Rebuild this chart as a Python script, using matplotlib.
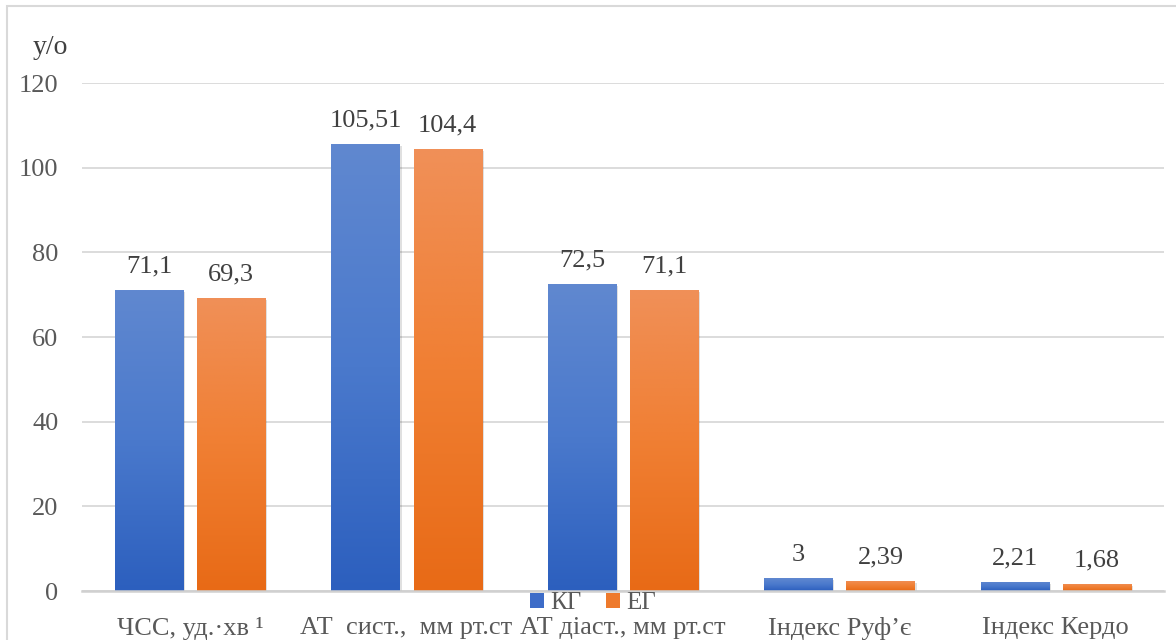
import numpy as np
import matplotlib.pyplot as plt
from matplotlib.colors import LinearSegmentedColormap
from matplotlib.patches import Rectangle, Patch
import matplotlib.patheffects as pe

plt.rcParams['font.family'] = ['Liberation Serif', 'DejaVu Serif']

categories = ["ЧСС, уд.·хв ¹", "АТ  сист.,  мм рт.ст", "АТ діаст., мм рт.ст",
              "Індекс Руф’є", "Індекс Кердо"]
kg_values = [71.1, 105.51, 72.5, 3, 2.21]
eg_values = [69.3, 104.4, 71.1, 2.39, 1.68]
kg_labels = ["71,1", "105,51", "72,5", "3", "2,21"]
eg_labels = ["69,3", "104,4", "71,1", "2,39", "1,68"]

blue_grad = LinearSegmentedColormap.from_list("kg", ["#2c5fbe", "#4a79cc", "#6088d0"])
orange_grad = LinearSegmentedColormap.from_list("eg", ["#e86a16", "#f07f33", "#f09058"])

fig = plt.figure(figsize=(11.76, 6.4), dpi=100)
ax = fig.add_axes([82 / 1176, 49 / 640, (1164 - 82) / 1176, (591 - 83) / 640])

x = np.arange(len(categories))
width = 0.315
offset = 0.19

grad = np.linspace(0, 1, 256).reshape(-1, 1)


def gradient_bars(xs, vals, cmap):
    bars = ax.bar(xs, vals, width, color="none", edgecolor="none", zorder=3)
    for b in bars:
        x0 = b.get_x()
        h = b.get_height()
        # soft drop shadow behind the bar
        sh = Rectangle((x0, 0), width, h, facecolor="white", edgecolor="none", zorder=2)
        ax.add_patch(sh)
        sh.set_path_effects([pe.SimplePatchShadow(offset=(1.5, -1.5), shadow_rgbFace="#000000", alpha=0.12)])
        img = ax.imshow(grad, extent=(x0, x0 + width, 0, h), origin="lower",
                        cmap=cmap, aspect="auto", zorder=3, interpolation="bilinear")
        img.set_clip_path(b)
    return bars


gradient_bars(x - offset, kg_values, blue_grad)
gradient_bars(x + offset, eg_values, orange_grad)

for i in range(len(categories)):
    ax.annotate(kg_labels[i], (x[i] - offset, kg_values[i]), xytext=(0, 9),
                textcoords="offset points", ha="center", va="bottom",
                fontsize=19, color="#404040")
    ax.annotate(eg_labels[i], (x[i] + offset, eg_values[i]), xytext=(0, 9),
                textcoords="offset points", ha="center", va="bottom",
                fontsize=19, color="#404040")

ax.set_xlim(-0.5, len(categories) - 0.5)
ax.set_ylim(0, 120)
ax.set_yticks(range(0, 121, 20))
ax.set_xticks(x)
ax.set_xticklabels(categories)
ax.tick_params(axis="y", length=0, pad=17, labelsize=19, labelcolor="#595959")
ax.tick_params(axis="x", length=0, pad=19, labelsize=19, labelcolor="#595959")
ax.yaxis.grid(True, color="#d9d9d9", linewidth=1.3, zorder=0)
ax.set_axisbelow(True)
for s in ["top", "right", "left"]:
    ax.spines[s].set_visible(False)
ax.spines["bottom"].set_color("#d0d0d0")
ax.spines["bottom"].set_linewidth(1.8)
ax.spines["bottom"].set_zorder(4)

fig.text(50 / 1176, 1 - 47 / 640, "y/o", fontsize=20, color="#404040",
         ha="center", va="center")

handles = [Patch(facecolor="#3d6cc8", label="КГ"), Patch(facecolor="#ee7a2c", label="ЕГ")]
fig.legend(handles=handles, loc="center", bbox_to_anchor=(593 / 1176, 1 - 603 / 640),
           ncol=2, frameon=False, fontsize=18, handlelength=0.55, handleheight=0.55,
           handletextpad=0.25, columnspacing=1.0, labelcolor="#595959",
           borderpad=0, borderaxespad=0)

# light outer frame around the chart
fig.patches.append(Rectangle((7 / 1176, -0.05), 1.2, 1.05 - 6 / 640,
                             transform=fig.transFigure, facecolor="none",
                             edgecolor="#d9d9d9", linewidth=1.5, zorder=-1))

fig.savefig("out.png", dpi=100)
